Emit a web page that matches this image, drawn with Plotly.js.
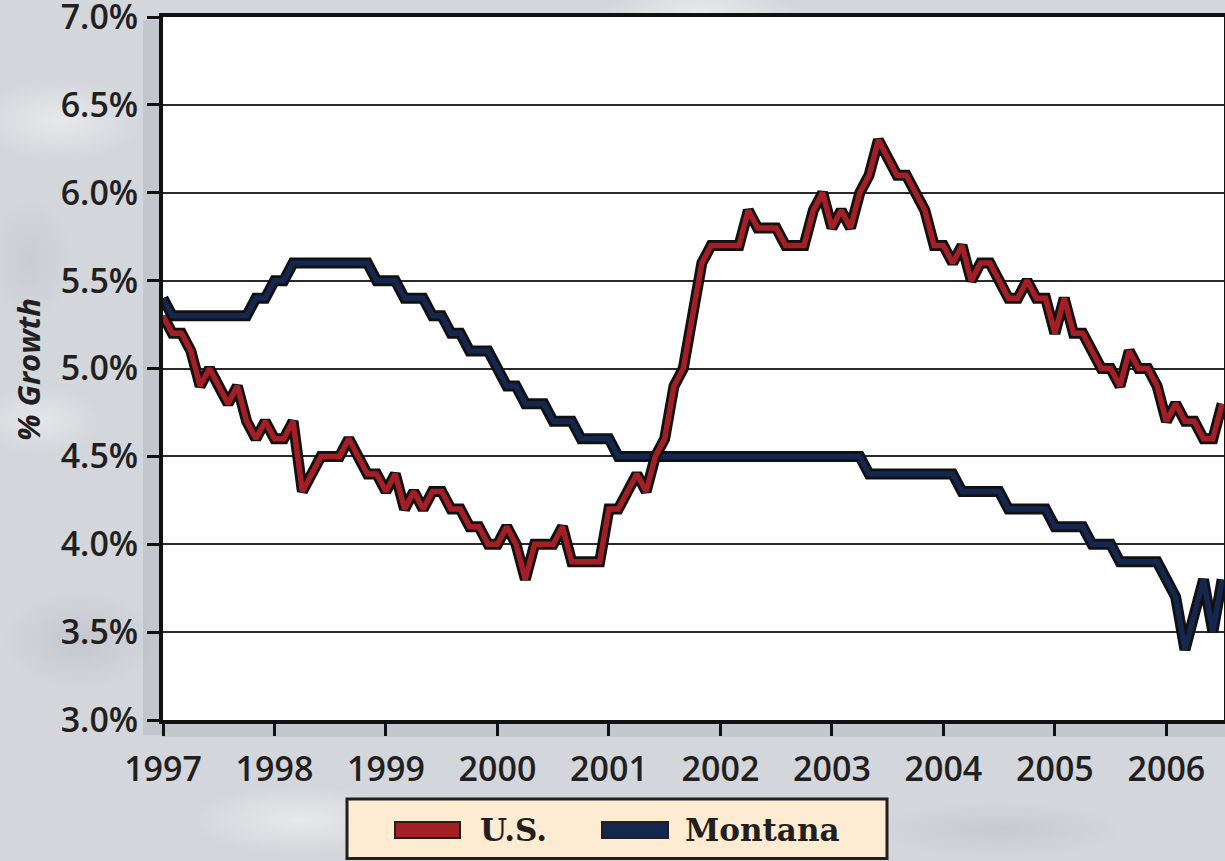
<!DOCTYPE html>
<html>
<head>
<meta charset="utf-8">
<script src="https://cdn.plot.ly/plotly-3.0.1.min.js"></script>
<style>
  html, body { margin: 0; padding: 0; }
  body {
    background-color: #d3d6db;
    background-image:
      radial-gradient(ellipse 120px 60px at 60px 120px, rgba(255,255,255,0.45), rgba(255,255,255,0) 70%),
      radial-gradient(ellipse 90px 50px at 40px 420px, rgba(255,255,255,0.4), rgba(255,255,255,0) 70%),
      radial-gradient(ellipse 110px 70px at 80px 640px, rgba(150,155,165,0.25), rgba(150,155,165,0) 70%),
      radial-gradient(ellipse 160px 50px at 300px 820px, rgba(255,255,255,0.45), rgba(255,255,255,0) 70%),
      radial-gradient(ellipse 180px 40px at 1000px 830px, rgba(150,155,165,0.2), rgba(150,155,165,0) 70%),
      radial-gradient(ellipse 140px 40px at 700px 10px, rgba(255,255,255,0.45), rgba(255,255,255,0) 70%),
      radial-gradient(ellipse 60px 90px at 30px 260px, rgba(160,165,175,0.2), rgba(160,165,175,0) 70%);
  }
  #chart { width: 1225px; height: 861px; }
</style>
</head>
<body>
<div id="chart"></div>
<script>
// ---- data (monthly, Jan 1997 onward) ----
const startYear = 1997;
const yearTicks = [1997, 1998, 1999, 2000, 2001, 2002, 2003, 2004, 2005, 2006];

const usRate = [
  5.3, 5.2, 5.2, 5.1, 4.9, 5.0, 4.9, 4.8, 4.9, 4.7, 4.6, 4.7,   // 1997
  4.6, 4.6, 4.7, 4.3, 4.4, 4.5, 4.5, 4.5, 4.6, 4.5, 4.4, 4.4,   // 1998
  4.3, 4.4, 4.2, 4.3, 4.2, 4.3, 4.3, 4.2, 4.2, 4.1, 4.1, 4.0,   // 1999
  4.0, 4.1, 4.0, 3.8, 4.0, 4.0, 4.0, 4.1, 3.9, 3.9, 3.9, 3.9,   // 2000
  4.2, 4.2, 4.3, 4.4, 4.3, 4.5, 4.6, 4.9, 5.0, 5.3, 5.6, 5.7,   // 2001
  5.7, 5.7, 5.7, 5.9, 5.8, 5.8, 5.8, 5.7, 5.7, 5.7, 5.9, 6.0,   // 2002
  5.8, 5.9, 5.8, 6.0, 6.1, 6.3, 6.2, 6.1, 6.1, 6.0, 5.9, 5.7,   // 2003
  5.7, 5.6, 5.7, 5.5, 5.6, 5.6, 5.5, 5.4, 5.4, 5.5, 5.4, 5.4,   // 2004
  5.2, 5.4, 5.2, 5.2, 5.1, 5.0, 5.0, 4.9, 5.1, 5.0, 5.0, 4.9,   // 2005
  4.7, 4.8, 4.7, 4.7, 4.6, 4.6, 4.8                             // 2006
];

const montanaRate = [
  5.4, 5.3, 5.3, 5.3, 5.3, 5.3, 5.3, 5.3, 5.3, 5.3, 5.4, 5.4,   // 1997
  5.5, 5.5, 5.6, 5.6, 5.6, 5.6, 5.6, 5.6, 5.6, 5.6, 5.6, 5.5,   // 1998
  5.5, 5.5, 5.4, 5.4, 5.4, 5.3, 5.3, 5.2, 5.2, 5.1, 5.1, 5.1,   // 1999
  5.0, 4.9, 4.9, 4.8, 4.8, 4.8, 4.7, 4.7, 4.7, 4.6, 4.6, 4.6,   // 2000
  4.6, 4.5, 4.5, 4.5, 4.5, 4.5, 4.5, 4.5, 4.5, 4.5, 4.5, 4.5,   // 2001
  4.5, 4.5, 4.5, 4.5, 4.5, 4.5, 4.5, 4.5, 4.5, 4.5, 4.5, 4.5,   // 2002
  4.5, 4.5, 4.5, 4.5, 4.4, 4.4, 4.4, 4.4, 4.4, 4.4, 4.4, 4.4,   // 2003
  4.4, 4.4, 4.3, 4.3, 4.3, 4.3, 4.3, 4.2, 4.2, 4.2, 4.2, 4.2,   // 2004
  4.1, 4.1, 4.1, 4.1, 4.0, 4.0, 4.0, 3.9, 3.9, 3.9, 3.9, 3.9,   // 2005
  3.8, 3.7, 3.4, 3.6, 3.8, 3.5, 3.8                             // 2006
];

const seriesNames = ['U.S.', 'Montana'];
const seriesColors = ['#a31e25', '#15264f'];
const yAxisTitle = '% Growth';

// ---- build ----
const xMonths = usRate.map((_, i) => startYear + i / 12);

// plot-area pixel geometry
const W = 1225, H = 861;
const mL = 163, mR = 1, mT = 17, mB = 141;
const plotW = W - mL - mR, plotH = H - mT - mB;
const px2x = px => (px - mL) / plotW;
const px2y = py => (H - mB - py) / plotH;

function outlined(y, name, color) {
  return [
    { x: xMonths, y: y, type: 'scatter', mode: 'lines', name: name + ' outline',
      line: { color: '#111111', width: 11, shape: 'linear' }, showlegend: false, hoverinfo: 'skip' },
    { x: xMonths, y: y, type: 'scatter', mode: 'lines', name: name,
      line: { color: color, width: 5.5, shape: 'linear' }, showlegend: false }
  ];
}

const traces = [
  ...outlined(montanaRate, seriesNames[1], seriesColors[1]),
  ...outlined(usRate, seriesNames[0], seriesColors[0])
];

const tickFont = { family: 'Open Sans, sans-serif', size: 34, color: '#231f20', weight: 600 };

const shapes = [
  // soft shadow around plot area
  { type: 'rect', xref: 'paper', yref: 'paper', layer: 'below',
    x0: px2x(143), x1: px2x(161), y0: px2y(20), y1: px2y(735),
    fillcolor: 'rgba(120,125,140,0.18)', line: { width: 0 } },
  { type: 'rect', xref: 'paper', yref: 'paper', layer: 'below',
    x0: px2x(161), x1: px2x(1225), y0: px2y(722), y1: px2y(737),
    fillcolor: 'rgba(120,125,140,0.18)', line: { width: 0 } },
  // legend box
  { type: 'rect', xref: 'paper', yref: 'paper',
    x0: px2x(347), x1: px2x(887), y0: px2y(799), y1: px2y(858.5),
    fillcolor: '#fdecd1', line: { color: '#231f20', width: 3 } },
  // legend swatches
  { type: 'rect', xref: 'paper', yref: 'paper',
    x0: px2x(395), x1: px2x(460), y0: px2y(822), y1: px2y(838),
    fillcolor: seriesColors[0], line: { color: '#231f20', width: 2 } },
  { type: 'rect', xref: 'paper', yref: 'paper',
    x0: px2x(602), x1: px2x(668), y0: px2y(822), y1: px2y(838),
    fillcolor: seriesColors[1], line: { color: '#231f20', width: 2 } }
];

const legendFont = { family: 'DejaVu Serif, serif', size: 31, color: '#231f20', weight: 700 };

const annotations = [
  { text: yAxisTitle, xref: 'paper', yref: 'paper', x: px2x(28), y: px2y(370),
    xanchor: 'center', yanchor: 'middle', textangle: -90, showarrow: false,
    font: { family: 'Open Sans, sans-serif', size: 31, color: '#231f20', weight: 700, style: 'italic' } },
  { text: seriesNames[0], xref: 'paper', yref: 'paper', x: px2x(478), y: px2y(830),
    xanchor: 'left', yanchor: 'middle', showarrow: false, font: legendFont },
  { text: seriesNames[1], xref: 'paper', yref: 'paper', x: px2x(683), y: px2y(830),
    xanchor: 'left', yanchor: 'middle', showarrow: false, font: legendFont }
];

const layout = {
  width: W, height: H,
  margin: { l: mL, r: mR, t: mT, b: mB, pad: 0 },
  paper_bgcolor: 'rgba(0,0,0,0)',
  plot_bgcolor: '#ffffff',
  showlegend: false,
  xaxis: {
    range: [startYear, startYear + 114.2 / 12],
    tickvals: yearTicks, ticktext: yearTicks.map(String),
    ticks: 'outside', ticklen: 12, tickwidth: 3, tickcolor: '#111111',
    showgrid: false, zeroline: false,
    showline: true, linecolor: '#111111', linewidth: 4, mirror: true,
    tickfont: tickFont, ticklabelstandoff: 4, ticklabeloverflow: 'allow'
  },
  yaxis: {
    range: [3, 7], dtick: 0.5, tick0: 3,
    tickformat: '.1f', ticksuffix: '%',
    ticks: 'outside', ticklen: 12, tickwidth: 3, tickcolor: '#111111',
    showgrid: true, gridcolor: '#2a2a2a', gridwidth: 2,
    zeroline: false,
    showline: true, linecolor: '#111111', linewidth: 4, mirror: true,
    tickfont: tickFont, ticklabelstandoff: 2, ticklabeloverflow: 'allow'
  },
  shapes: shapes,
  annotations: annotations
};

Plotly.newPlot('chart', traces, layout, { staticPlot: true, displayModeBar: false });
</script>
</body>
</html>
